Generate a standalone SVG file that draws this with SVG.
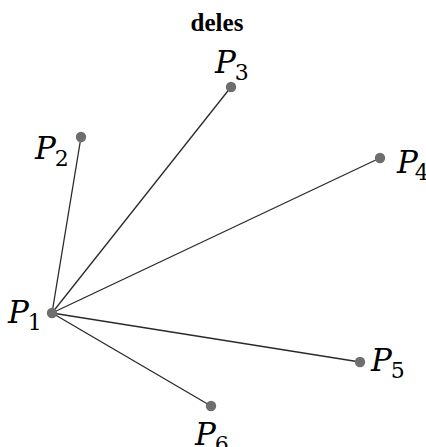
<svg xmlns="http://www.w3.org/2000/svg" width="426" height="447" viewBox="0 0 426 447">
<defs>
<filter id="blur" x="-50%" y="-50%" width="200%" height="200%"><feGaussianBlur stdDeviation="0.7"/></filter>
</defs>
<style>
.edge{stroke:#2a2a2a;stroke-width:1.3;fill:none}
.dot{fill:#6e6e6e;filter:url(#blur)}
.lbl{font-family:"DejaVu Serif","Liberation Serif",serif;font-style:italic;font-size:31px;fill:#000}
.sub{font-family:"DejaVu Serif","Liberation Serif",serif;font-style:normal;font-size:22px}
.title{font-family:"Liberation Serif",serif;font-weight:bold;font-size:25px;fill:#000}
</style>
<rect width="426" height="447" fill="#fff"/>
<text class="title" x="217" y="31" text-anchor="middle">deles</text>
<g id="connectors">
<line class="edge" x1="52" y1="313" x2="81" y2="137"/>
<line class="edge" x1="52" y1="313" x2="231" y2="87"/>
<line class="edge" x1="52" y1="313" x2="380" y2="158"/>
<line class="edge" x1="52" y1="313" x2="360" y2="362"/>
<line class="edge" x1="52" y1="313" x2="211" y2="406"/>
</g>
<g id="P1"><circle class="dot" cx="52" cy="313" r="5.2"/><text class="lbl" x="8" y="323">P<tspan class="sub" dx="-1" dy="7">1</tspan></text></g>
<g id="P2"><circle class="dot" cx="81" cy="137" r="5.2"/><text class="lbl" x="35" y="159">P<tspan class="sub" dx="-1" dy="7">2</tspan></text></g>
<g id="P3"><circle class="dot" cx="231" cy="87" r="5.2"/><text class="lbl" x="215" y="73">P<tspan class="sub" dx="-1" dy="7">3</tspan></text></g>
<g id="P4"><circle class="dot" cx="380" cy="158" r="5.2"/><text class="lbl" x="397" y="173">P<tspan class="sub" dx="-3" dy="7">4</tspan></text></g>
<g id="P5"><circle class="dot" cx="360" cy="362" r="5.2"/><text class="lbl" x="371" y="371">P<tspan class="sub" dx="-1" dy="7">5</tspan></text></g>
<g id="P6"><circle class="dot" cx="211" cy="406" r="5.2"/><text class="lbl" x="195" y="445">P<tspan class="sub" dx="-1" dy="7">6</tspan></text></g>
</svg>
